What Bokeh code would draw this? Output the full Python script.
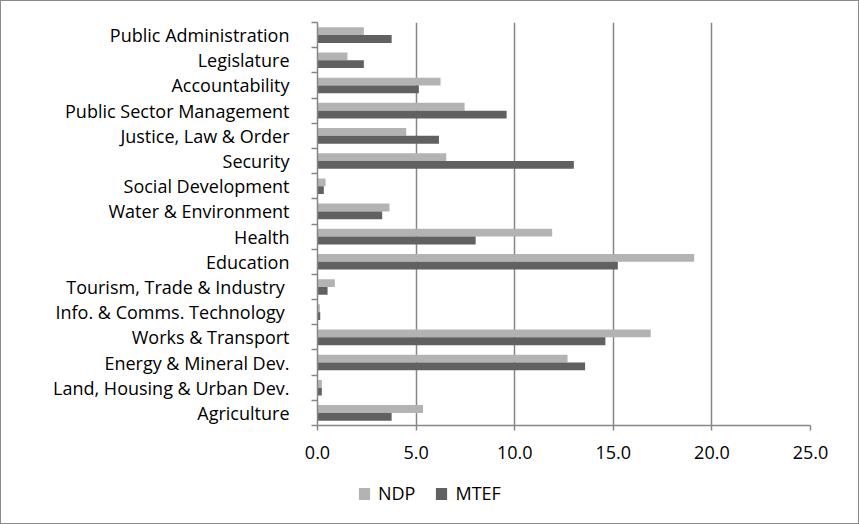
from bokeh.plotting import figure
from bokeh.layouts import column
from bokeh.models import ColumnDataSource, FixedTicker, NumeralTickFormatter, Legend, LegendItem, Range1d
from bokeh.embed import file_html
from bokeh.resources import INLINE

# Categories listed bottom to top
categories = [
    "Agriculture",
    "Land, Housing & Urban Dev.",
    "Energy & Mineral Dev.",
    "Works & Transport",
    "Info. & Comms.  Technology",
    "Tourism, Trade  & Industry",
    "Education",
    "Health",
    "Water & Environment",
    "Social Development",
    "Security",
    "Justice, Law & Order",
    "Public Sector Management",
    "Accountability",
    "Legislature",
    "Public Administration",
]
ndp = [5.35, 0.22, 12.68, 16.9, 0.12, 0.88, 19.1, 11.9, 3.65, 0.41, 6.53, 4.5, 7.46, 6.24, 1.52, 2.35]
mtef = [3.76, 0.22, 13.57, 14.6, 0.14, 0.51, 15.23, 8.02, 3.28, 0.32, 13.0, 6.16, 9.59, 5.14, 2.35, 3.76]
x_ticks = [0, 5, 10, 15, 20, 25]
series_names = ["NDP", "MTEF"]
series_colors = ["#b3b3b3", "#616161"]

FONT = "Open Sans"
FS = "18px"
pos = list(range(len(categories)))
src = ColumnDataSource(dict(
    y_ndp=[i + 0.155 for i in pos],
    y_mtef=[i - 0.155 for i in pos],
    ndp=ndp,
    mtef=mtef,
))

p = figure(width=857, height=465, output_backend="svg", toolbar_location=None,
           x_range=Range1d(0, 25), y_range=Range1d(-0.5, len(categories) - 0.5),
           min_border_left=316, min_border_right=48, min_border_top=21, min_border_bottom=41)
p.outline_line_color = None
p.background_fill_color = "white"

p.hbar(y="y_ndp", right="ndp", left=0, height=0.31, source=src,
       fill_color=series_colors[0], line_color=None)
p.hbar(y="y_mtef", right="mtef", left=0, height=0.31, source=src,
       fill_color=series_colors[1], line_color=None)

# x axis
p.xaxis.ticker = FixedTicker(ticks=x_ticks)
p.xaxis.formatter = NumeralTickFormatter(format="0.0")
p.xaxis.axis_line_color = "#868686"
p.xaxis.axis_line_width = 1.5
p.xaxis.major_tick_line_color = "#868686"
p.xaxis.major_tick_line_width = 1.5
p.xaxis.major_tick_out = 5
p.xaxis.major_tick_in = 0
p.xaxis.minor_tick_line_color = None
p.xaxis.major_label_text_font = FONT
p.xaxis.major_label_text_font_size = FS
p.xaxis.major_label_text_color = "black"
p.xaxis.major_label_standoff = 15

# y axis
p.yaxis.ticker = FixedTicker(ticks=pos, minor_ticks=[i - 0.5 for i in range(len(categories) + 1)])
p.yaxis.major_label_overrides = {i: c for i, c in enumerate(categories)}
p.yaxis.axis_line_color = "#868686"
p.yaxis.axis_line_width = 1.5
p.yaxis.major_tick_line_color = None
p.yaxis.major_tick_out = 0
p.yaxis.major_tick_in = 0
p.yaxis.minor_tick_line_color = "#868686"
p.yaxis.minor_tick_line_width = 1.5
p.yaxis.minor_tick_out = 6
p.yaxis.minor_tick_in = 0
p.yaxis.major_label_text_font = FONT
p.yaxis.major_label_text_font_size = FS
p.yaxis.major_label_text_color = "black"
p.yaxis.major_label_standoff = 22

p.xgrid.ticker = FixedTicker(ticks=x_ticks[1:])
p.xgrid.grid_line_color = "#868686"
p.xgrid.grid_line_width = 1.5
p.ygrid.grid_line_color = None

# legend strip below the chart
pl = figure(width=857, height=57, output_backend="svg", toolbar_location=None,
            x_range=Range1d(0, 1), y_range=Range1d(0, 1),
            min_border_left=0, min_border_right=0, min_border_top=0, min_border_bottom=0)
pl.axis.visible = False
pl.grid.visible = False
pl.outline_line_color = None
items = []
for name, color in zip(series_names, series_colors):
    # key renderer: its single bar lies outside the visible range
    r = pl.hbar(y=[-5], right=[0.1], left=0, height=0.3, fill_color=color, line_color=None)
    items.append(LegendItem(label=name, renderers=[r]))
legend = Legend(items=items, orientation="horizontal", location=(40, 18),
                glyph_width=14, glyph_height=15, label_standoff=7, spacing=19,
                label_text_font=FONT, label_text_font_size=FS, label_text_color="black",
                border_line_color=None, background_fill_alpha=0,
                padding=0, margin=0)
pl.add_layout(legend, "center")

layout = column(p, pl, spacing=0, styles={"border": "1px solid #8a8a8a"})

open("out.html", "w").write(file_html(layout, INLINE))
